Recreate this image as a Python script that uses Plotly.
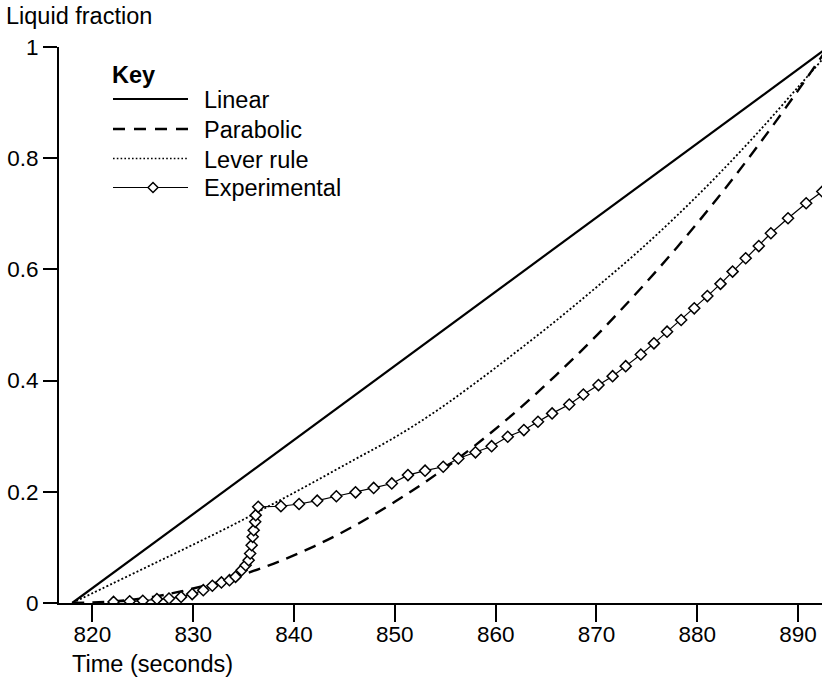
import plotly.graph_objects as go

# ---------------- data ----------------
linear_t = [818, 893]
linear_v = [0.0, 1.0]

parabolic_t = [818, 822, 826, 830, 834, 838, 842, 846, 850, 854, 858, 862, 866,
               870, 874, 878, 882, 886, 890, 893]
parabolic_v = [0.0, 0.003, 0.011, 0.026, 0.046, 0.071, 0.102, 0.139, 0.182,
               0.230, 0.284, 0.344, 0.410, 0.481, 0.558, 0.640, 0.728, 0.822,
               0.922, 1.0]

lever_t = [818, 822, 826, 830, 834, 838, 842, 846, 850, 854, 858, 862, 866,
           870, 874, 878, 882, 886, 890, 893]
lever_v = [0.0, 0.035, 0.070, 0.105, 0.141, 0.179, 0.218, 0.258, 0.298, 0.344,
           0.396, 0.451, 0.508, 0.568, 0.630, 0.697, 0.769, 0.846, 0.928, 0.990]

exp_t = [822.1, 823.7, 825.0, 826.4, 827.6, 828.8, 829.9, 831.0, 831.9, 832.8,
         833.6, 834.2, 834.8, 835.2, 835.5, 835.65, 835.8, 835.9, 836.0, 836.15,
         836.2, 836.45, 838.7, 840.5, 842.3, 844.2, 846.1, 847.9, 849.7, 851.3,
         853.0, 854.8, 856.3, 858.0, 859.6, 861.2, 862.8, 864.2, 865.6, 867.3,
         868.7, 870.2, 871.6, 872.9, 874.4, 875.7, 877.0, 878.4, 879.7, 881.0,
         882.3, 883.5, 884.8, 886.1, 887.3, 889.0, 890.8, 892.4]
exp_v = [0.002, 0.003, 0.004, 0.007, 0.008, 0.011, 0.016, 0.023, 0.031, 0.037,
         0.041, 0.047, 0.059, 0.068, 0.077, 0.089, 0.104, 0.119, 0.131, 0.146,
         0.158, 0.173, 0.174, 0.178, 0.184, 0.192, 0.199, 0.207, 0.215, 0.230,
         0.238, 0.245, 0.260, 0.271, 0.282, 0.299, 0.311, 0.326, 0.341, 0.357,
         0.375, 0.392, 0.408, 0.426, 0.447, 0.467, 0.488, 0.509, 0.530, 0.552,
         0.574, 0.596, 0.620, 0.642, 0.665, 0.692, 0.719, 0.740]

x_ticks = [820, 830, 840, 850, 860, 870, 880, 890]
y_ticks = [0, 0.2, 0.4, 0.6, 0.8, 1]
y_tick_labels = ["0", "0.2", "0.4", "0.6", "0.8", "1"]

series_names = ["Linear", "Parabolic", "Lever rule", "Experimental"]

# ---------------- figure ----------------
W, H = 822, 684
ML, MR, MT, MB = 59, 0, 47, 81
PW, PH = W - ML - MR, H - MT - MB
FONT = "Liberation Sans, Arial, Helvetica, sans-serif"
TXT = 23.5
TICK = 22.5
X_RANGE = [816.69, 892.37]


def px_x(px):
    return (px - ML) / PW


def px_y(py):
    return (H - MB - py) / PH


fig = go.Figure()
fig.add_trace(go.Scatter(x=linear_t, y=linear_v, mode="lines",
                         line=dict(color="black", width=2.2),
                         name=series_names[0], showlegend=False))
fig.add_trace(go.Scatter(x=parabolic_t, y=parabolic_v, mode="lines",
                         line=dict(color="black", width=2.4, dash="12px,8px",
                                   shape="spline"),
                         name=series_names[1], showlegend=False))
fig.add_trace(go.Scatter(x=lever_t, y=lever_v, mode="lines",
                         line=dict(color="black", width=1.8, dash="2px,2.2px",
                                   shape="spline"),
                         name=series_names[2], showlegend=False))
fig.add_trace(go.Scatter(x=exp_t, y=exp_v, mode="lines+markers",
                         line=dict(color="black", width=1.2),
                         marker=dict(symbol="diamond", size=8.5, color="white",
                                     line=dict(color="black", width=1.5)),
                         name=series_names[3], showlegend=False))
# invisible trace on the label-only x axis so that axis is drawn
fig.add_trace(go.Scatter(x=[x_ticks[0]], y=[0], xaxis="x2", mode="markers",
                         marker=dict(opacity=0), hoverinfo="skip",
                         showlegend=False))

# ---------------- manual key ----------------
shapes = []
annotations = []
lx0, lx1, ltext = 113, 188, 202
rows_y = [99, 129, 158.5, 187.5]
styles = [dict(width=2.2, dash="solid"),
          dict(width=2.4, dash="12px,9px"),
          dict(width=1.6, dash="1.6px,2.2px"),
          dict(width=1.2, dash="solid")]
for name, ry, st in zip(series_names, rows_y, styles):
    shapes.append(dict(type="line", xref="paper", yref="paper",
                       x0=px_x(lx0), x1=px_x(lx1), y0=px_y(ry), y1=px_y(ry),
                       line=dict(color="black", **st)))
    annotations.append(dict(text=name, xref="paper", yref="paper",
                            x=px_x(ltext), y=px_y(ry + 1), xanchor="left",
                            yanchor="middle", showarrow=False,
                            font=dict(size=TXT, color="black", family=FONT)))
# diamond in experimental key
cx, cy, r = 153, rows_y[3], 5
path = "M {} {} L {} {} L {} {} L {} {} Z".format(
    px_x(cx - r), px_y(cy), px_x(cx), px_y(cy - r),
    px_x(cx + r), px_y(cy), px_x(cx), px_y(cy + r))
shapes.append(dict(type="path", xref="paper", yref="paper", path=path,
                   fillcolor="white", line=dict(color="black", width=1.5)))

annotations.append(dict(text="<b>Key</b>", xref="paper", yref="paper",
                        x=px_x(110), y=px_y(75), xanchor="left",
                        yanchor="middle", showarrow=False,
                        font=dict(size=TXT, color="black", family=FONT)))
annotations.append(dict(text="Liquid fraction", xref="paper", yref="paper",
                        x=px_x(4), y=px_y(16), xanchor="left",
                        yanchor="middle", showarrow=False,
                        font=dict(size=TXT, color="black", family=FONT)))
annotations.append(dict(text="Time (seconds)", xref="paper", yref="paper",
                        x=px_x(70), y=px_y(664), xanchor="left",
                        yanchor="middle", showarrow=False,
                        font=dict(size=TXT, color="black", family=FONT)))

fig.update_layout(
    width=W, height=H, autosize=False,
    margin=dict(l=ML, r=MR, t=MT, b=MB, pad=0),
    paper_bgcolor="white", plot_bgcolor="white",
    font=dict(family=FONT, size=TICK, color="black"),
    shapes=shapes, annotations=annotations, showlegend=False,
    # primary x axis: line and long tick marks only
    xaxis=dict(range=X_RANGE, tickvals=x_ticks, showgrid=False,
               zeroline=False, showline=True, linecolor="black", linewidth=2,
               ticks="outside", ticklen=17, tickwidth=2, tickcolor="black",
               showticklabels=False),
    # overlay x axis: tick labels placed a little closer to the line
    xaxis2=dict(range=X_RANGE, tickvals=x_ticks, overlaying="x",
                side="bottom", anchor="y", showgrid=False, zeroline=False,
                showline=False, ticks="outside", ticklen=11,
                tickcolor="rgba(0,0,0,0)", tickfont=dict(size=TICK)),
    yaxis=dict(range=[0, 1], tickvals=y_ticks, ticktext=y_tick_labels,
               showgrid=False, zeroline=False, showline=True,
               linecolor="black", linewidth=2, ticks="outside", ticklen=14,
               tickwidth=2, tickcolor="black", tickfont=dict(size=TICK)),
)

fig.write_html("out.html", config={"displayModeBar": False},
               post_script="document.body.style.margin='0px';")
